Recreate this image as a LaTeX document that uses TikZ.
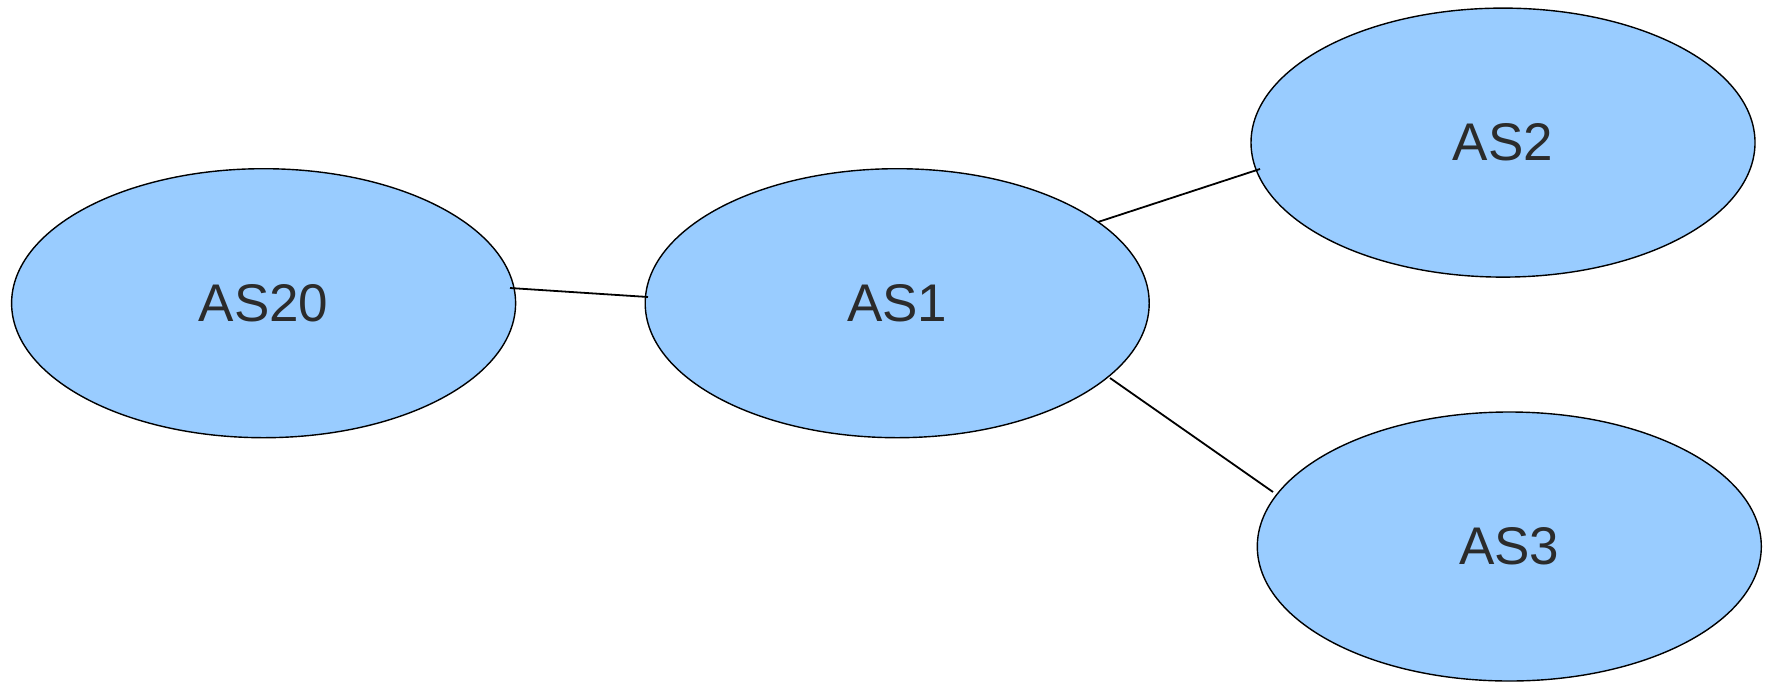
\documentclass[tikz,border=0pt]{standalone}
\usepackage{fontspec}
\setmainfont{Liberation Sans}
\usetikzlibrary{shapes.geometric}
\definecolor{asfill}{HTML}{99CCFF}
\definecolor{astext}{HTML}{2B2B2B}
\tikzset{
  asnode/.style={ellipse, draw=black, line width=1.4pt, fill=asfill, text=astext,
    minimum width=504pt, minimum height=269pt, inner sep=0pt,
    font=\fontsize{53}{60}\selectfont},
  link/.style={draw=black, line width=1.8pt}
}
\begin{document}
\begin{tikzpicture}[x=1pt,y=-1pt]
\useasboundingbox (0,0) rectangle (1774,683);
\node[asnode] (as20) at (263.6,303.2) {AS20};
\node[asnode] (as1) at (897.2,303.2) {AS1};
\node[asnode] (as2) at (1503,142.6) {AS2};
\node[asnode] (as3) at (1509.3,546.5) {AS3};
\coordinate (l1a) at (510,288);
\coordinate (l1b) at (648,297);
\coordinate (l2a) at (1098,222);
\coordinate (l2b) at (1260,169);
\coordinate (l3a) at (1110,378);
\coordinate (l3b) at (1273,492);
\draw[link] (l1a) -- (l1b);
\draw[link] (l2a) -- (l2b);
\draw[link] (l3a) -- (l3b);
\end{tikzpicture}
\end{document}
